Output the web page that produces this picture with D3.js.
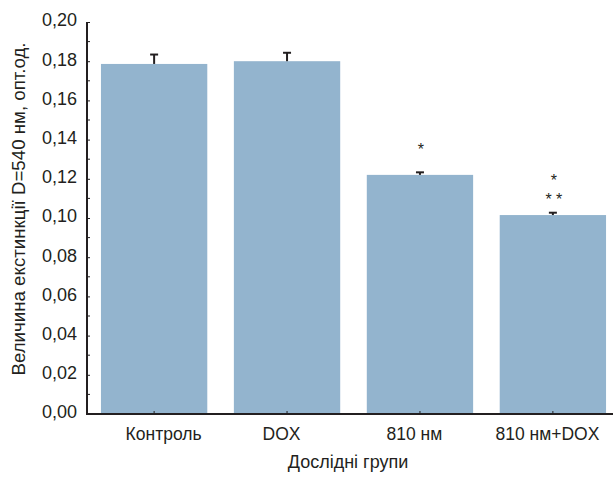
<!DOCTYPE html>
<html>
<head>
<meta charset="utf-8">
<script src="https://cdnjs.cloudflare.com/ajax/libs/d3/7.8.5/d3.min.js"></script>
<style>
  html, body { margin: 0; padding: 0; background: #fff; }
  svg { display: block; }
  text { font-family: "Liberation Sans Narrow", "Arial Narrow", sans-serif; fill: #231f20; }
</style>
</head>
<body>
<svg id="chart" width="613" height="482"></svg>
<script>
// Optical density of the study groups (mean ± error)
const groups = ["Контроль", "DOX", "810 нм", "810 нм+DOX"];
const means = [0.1786, 0.1800, 0.1220, 0.1015];
const errors = [0.0048, 0.0043, 0.0013, 0.0012];
const marks = [[], [], ["*"], ["*", "* *"]];
const yTicks = [0, 0.02, 0.04, 0.06, 0.08, 0.10, 0.12, 0.14, 0.16, 0.18, 0.20];
const yMinorTicks = [0.01, 0.03, 0.05, 0.07, 0.09, 0.11, 0.13, 0.15, 0.17, 0.19];

const svg = d3.select("#chart");
const plot = { left: 87, top: 22, bottom: 414, right: 620 };

const y = d3.scaleLinear().domain([0, 0.2]).range([plot.bottom, plot.top]);
const x = d3.scaleBand().domain(groups).range([plot.left, plot.right])
  .paddingInner(0.2).paddingOuter(0.105);
const cx = (g) => x(g) + x.bandwidth() / 2;

// bars
svg.append("g").selectAll("rect").data(groups).join("rect")
  .attr("x", (d) => x(d))
  .attr("y", (d, i) => y(means[i]))
  .attr("width", x.bandwidth())
  .attr("height", (d, i) => y(0) - y(means[i]))
  .attr("fill", "#93b4ce");

// error bars (upper whisker only)
const eb = svg.append("g").attr("stroke", "#231f20").attr("stroke-width", 2);
groups.forEach((g, i) => {
  const top = y(means[i] + errors[i]);
  eb.append("line").attr("x1", cx(g)).attr("x2", cx(g))
    .attr("y1", y(means[i])).attr("y2", top);
  eb.append("line").attr("x1", cx(g) - 4).attr("x2", cx(g) + 4)
    .attr("y1", top).attr("y2", top);
});

// significance marks, stacked rows centred above the whisker
groups.forEach((g, i) => {
  const rows = marks[i];
  if (!rows.length) return;
  const top = y(means[i] + errors[i]);
  const rowGap = 19;
  const groupMid = top - 26;
  rows.forEach((s, k) => {
    const centre = groupMid - ((rows.length - 1) / 2 - k) * rowGap;
    svg.append("text")
      .attr("x", cx(g) + 1)
      .attr("y", centre + 9)
      .attr("text-anchor", "middle")
      .attr("font-size", 16)
      .attr("fill", "#333")
      .style("font-family", "Liberation Sans, sans-serif")
      .text(s);
  });
});

// y axis
const yAxis = d3.axisLeft(y).tickValues(yTicks).tickSize(-3).tickPadding(10)
  .tickFormat((d) => d3.format(".2f")(d).replace(".", ","));
const ya = svg.append("g").attr("transform", `translate(${plot.left},0)`).call(yAxis);
ya.select(".domain").remove();
ya.selectAll(".tick line").attr("stroke", "#231f20").attr("stroke-width", 1);
ya.selectAll(".tick text")
  .attr("font-size", 18)
  .attr("dy", "0.22em")
  .style("font-family", "Liberation Sans Narrow, Arial Narrow, sans-serif")
  .attr("fill", "#231f20");
svg.append("g").selectAll("line").data(yMinorTicks).join("line")
  .attr("x1", plot.left).attr("x2", plot.left + 3)
  .attr("y1", (d) => y(d)).attr("y2", (d) => y(d))
  .attr("stroke", "#231f20");
svg.append("line")
  .attr("x1", plot.left).attr("x2", plot.left)
  .attr("y1", plot.top).attr("y2", plot.bottom + 1)
  .attr("stroke", "#231f20").attr("stroke-width", 2);

// x axis
svg.append("line")
  .attr("x1", plot.left - 1).attr("x2", 613)
  .attr("y1", plot.bottom).attr("y2", plot.bottom)
  .attr("stroke", "#231f20").attr("stroke-width", 2);
svg.append("g").selectAll("line").data(groups).join("line")
  .attr("x1", (d) => cx(d)).attr("x2", (d) => cx(d))
  .attr("y1", plot.bottom).attr("y2", plot.bottom - 3)
  .attr("stroke", "#231f20");
svg.append("g").selectAll("text").data(groups).join("text")
  .attr("x", (d, i) => cx(d) + (i === 0 ? 9.5 : -5.5))
  .attr("y", 440)
  .attr("text-anchor", "middle")
  .attr("font-size", 17.5)
  .text((d) => d);

// axis titles
svg.append("text")
  .attr("x", 348).attr("y", 468)
  .attr("text-anchor", "middle")
  .attr("font-size", 18)
  .text("Дослідні групи");
svg.append("text")
  .attr("transform", "translate(25,209) rotate(-90)")
  .attr("text-anchor", "middle")
  .attr("font-size", 18.7)
  .text("Величина екстинкції D=540 нм, опт.од.");
</script>
</body>
</html>
